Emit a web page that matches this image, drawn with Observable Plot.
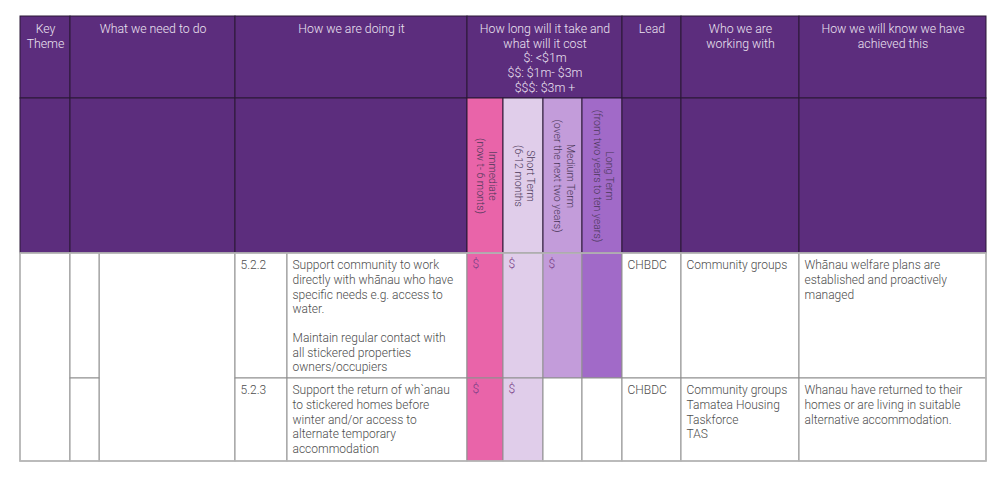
<!DOCTYPE html>
<html>
<head>
<meta charset="utf-8">
<script src="https://cdn.jsdelivr.net/npm/d3@7"></script>
<script src="https://cdn.jsdelivr.net/npm/@observablehq/plot@0.6"></script>
<style>
  html, body { margin: 0; padding: 0; background: #ffffff; }
  svg { display: block; }
</style>
</head>
<body>
<div id="chart"></div>
<script>
// ---------- DATA ----------
const headers = [
  "Key\nTheme",
  "What we need to do",
  "How we are doing it",
  "How long will it take and\nwhat will it cost\n$: <$1m\n$$: $1m- $3m\n$$$: $3m +",
  "Lead",
  "Who we are\nworking with",
  "How we will know we have\nachieved this"
];
const timeframes = ["Immediate", "Short Term", "Medium Term", "Long Term"];
const timeframeNotes = ["(now t- 6 monts)", "(6-12 months", "(over the next two years)", "(from two years to ten years)"];
const actionIds = ["5.2.2", "5.2.3"];
const actionTexts = [
  "Support community to work\ndirectly with whānau who have\nspecific needs e.g. access to\nwater.\n\nMaintain regular contact with\nall stickered properties\nowners/occupiers",
  "Support the return of wh`anau\nto stickered homes before\nwinter and/or access to\nalternate temporary\naccommodation"
];
const costs = [["$", "$", "$", ""], ["$", "$", "", ""]];
const timeframeActive = [[true, true, true, true], [true, true, false, false]];
const leads = ["CHBDC", "CHBDC"];
const partners = ["Community groups", "Community groups\nTamatea Housing\nTaskforce\nTAS"];
const outcomes = [
  "Whānau welfare plans are\nestablished and proactively\nmanaged",
  "Whanau have returned to their\nhomes or are living in suitable\nalternative accommodation."
];

// ---------- LAYOUT (table geometry) ----------
const W = 1000, H = 485;
const colEdges = [20, 70, 235, 467, 622, 681, 799, 986];
const tfEdges = [467, 503, 543, 582, 622];
const rowEdges = [16, 98, 253, 378, 461];
const subA = 99, subB = 287;
const pad = 5, padTop = 5.5;

// ---------- STYLES ----------
const headerFill = "#5c2d7d";
const tfFills = ["#e964a9", "#e0cdea", "#c39cda", "#a16ac8"];
const headerStroke = "#2a1836";
const bodyStroke = "#8f8f8f";
const font = "Roboto, 'Noto Sans', sans-serif";

// header rects
const rects = [];
for (let c = 0; c < headers.length; c++) {
  rects.push({x1: colEdges[c], x2: colEdges[c + 1], y1: rowEdges[0], y2: rowEdges[1], fill: headerFill, stroke: headerStroke});
  if (c === 3) {
    timeframes.forEach((t, i) => rects.push({x1: tfEdges[i], x2: tfEdges[i + 1], y1: rowEdges[1], y2: rowEdges[2], fill: tfFills[i], stroke: headerStroke}));
  } else {
    rects.push({x1: colEdges[c], x2: colEdges[c + 1], y1: rowEdges[1], y2: rowEdges[2], fill: headerFill, stroke: headerStroke});
  }
}
// body rects
const bodyTop = rowEdges[2], bodyBottom = rowEdges[4];
rects.push({x1: colEdges[0], x2: colEdges[1], y1: bodyTop, y2: bodyBottom, fill: "#ffffff", stroke: bodyStroke});
rects.push({x1: subA, x2: colEdges[2], y1: bodyTop, y2: bodyBottom, fill: "#ffffff", stroke: bodyStroke});
const bodyText = [], costText = [];
actionIds.forEach((id, r) => {
  const y1 = rowEdges[2 + r], y2 = rowEdges[3 + r];
  rects.push({x1: colEdges[1], x2: subA, y1, y2, fill: "#ffffff", stroke: bodyStroke});
  rects.push({x1: colEdges[2], x2: subB, y1, y2, fill: "#ffffff", stroke: bodyStroke});
  rects.push({x1: subB, x2: colEdges[3], y1, y2, fill: "#ffffff", stroke: bodyStroke});
  timeframes.forEach((t, i) => {
    rects.push({x1: tfEdges[i], x2: tfEdges[i + 1], y1, y2, fill: timeframeActive[r][i] ? tfFills[i] : "#ffffff", stroke: bodyStroke});
    if (costs[r][i]) costText.push({x: tfEdges[i] + pad, y: y1 + padTop, text: costs[r][i]});
  });
  for (let c = 4; c < 7; c++) rects.push({x1: colEdges[c], x2: colEdges[c + 1], y1, y2, fill: "#ffffff", stroke: bodyStroke});
  bodyText.push({x: colEdges[2] + pad, y: y1 + padTop, text: id});
  bodyText.push({x: subB + pad, y: y1 + padTop, text: actionTexts[r]});
  bodyText.push({x: colEdges[4] + pad, y: y1 + padTop, text: leads[r]});
  bodyText.push({x: colEdges[5] + pad, y: y1 + padTop, text: partners[r]});
  bodyText.push({x: colEdges[6] + pad, y: y1 + padTop, text: outcomes[r]});
});

const headerText = headers.map((h, c) => ({x: (colEdges[c] + colEdges[c + 1]) / 2, y: rowEdges[0] + 6, text: h}));
const tfText = timeframes.map((t, i) => ({x: (tfEdges[i] + tfEdges[i + 1]) / 2 + 1.5, y: (rowEdges[1] + rowEdges[2]) / 2, text: t + "\n" + timeframeNotes[i]}));

const chart = Plot.plot({
  width: W,
  height: H,
  margin: 0,
  x: {domain: [0, W], range: [0, W], axis: null},
  y: {domain: [0, H], range: [0, H], axis: null},
  color: {type: "identity"},
  style: {fontFamily: font, background: "#ffffff"},
  marks: [
    Plot.rect(rects, {x1: "x1", x2: "x2", y1: "y1", y2: "y2", fill: "fill", stroke: "stroke", strokeWidth: 1}),
    Plot.rect([{x1: colEdges[0], x2: colEdges[7], y1: bodyTop, y2: bodyBottom}], {x1: "x1", x2: "x2", y1: "y1", y2: "y2", fill: "none", stroke: "#b8b8b8", strokeWidth: 1.6}),
    Plot.text(headerText, {x: "x", y: "y", text: "text", textAnchor: "middle", lineAnchor: "top", fill: "#ece4f2", fontSize: 12.3, fontWeight: 300, lineHeight: 1.2, fontFamily: font}),
    Plot.text(tfText, {x: "x", y: "y", text: "text", textAnchor: "middle", lineAnchor: "middle", rotate: 90, fill: "#4a3758", fontSize: 10.5, fontWeight: 300, lineHeight: 1.22, fontFamily: font}),
    Plot.text(bodyText, {x: "x", y: "y", text: "text", textAnchor: "start", lineAnchor: "top", fill: "#4d4d4d", fontSize: 12, fontWeight: 300, lineHeight: 1.215, fontFamily: font}),
    Plot.text(costText, {x: "x", y: "y", text: "text", textAnchor: "start", lineAnchor: "top", fill: "#7a3f86", fontSize: 12, fontWeight: 300, fontFamily: font})
  ]
});
document.getElementById("chart").appendChild(chart);
</script>
</body>
</html>
